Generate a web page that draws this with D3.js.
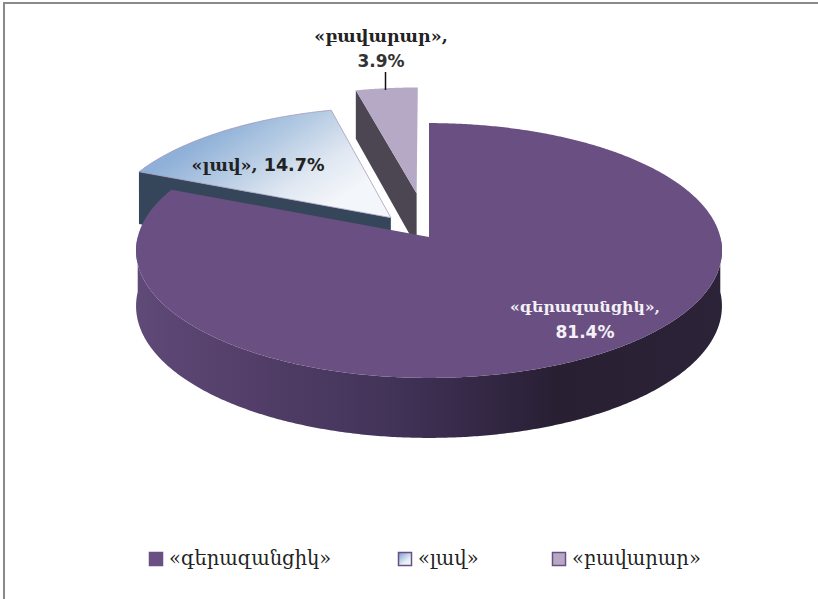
<!DOCTYPE html>
<html><head><meta charset="utf-8">
<script src="https://cdnjs.cloudflare.com/ajax/libs/d3/7.8.5/d3.min.js"></script>
<style>html,body{margin:0;padding:0;background:#fff}svg{display:block}</style></head>
<body><svg id="c" width="818" height="599"></svg>
<script>
const categories = ["«գերազանցիկ»", "«լավ»", "«բավարար»"];
const values = [81.4, 14.7, 3.9];
const valueLabels = ["81.4%", "14.7%", "3.9%"];
const explode = [0, 0.205, 0.36];

const svg = d3.select("#c");
const defs = svg.append("defs");
function lin(id, x1, y1, x2, y2, stops){
  const g = defs.append("linearGradient").attr("id", id).attr("gradientUnits","userSpaceOnUse")
    .attr("x1",x1).attr("y1",y1).attr("x2",x2).attr("y2",y2);
  stops.forEach(s => g.append("stop").attr("offset",s[0]).attr("stop-color",s[1]));
}
lin("wall",136,0,722,0,[[0,"#5f4a78"],[0.2,"#523e68"],[0.42,"#43345a"],[0.6,"#332744"],[0.72,"#281f33"],[1,"#2c2338"]]);
lin("blue",230,120,300,225,[[0,"#8fb0d8"],[0.35,"#b5cbe3"],[0.7,"#dfe7f1"],[1,"#f3f6fa"]]);
lin("swatch",400,552,410,564,[[0,"#7aa2d2"],[0.7,"#e6edf5"],[1,"#f4f6fa"]]);

// perspective projection of the unit disk to the page
const px = d3.scaleLinear().domain([0,1]).range([429,720.3]);
const py = d3.scaleLinear().domain([0,1]).range([237,111]);
const persp = 0.1059;
function project(X,Y,z){
  const w = 1 + persp*Y;
  const d = z ? 55 - 5*Y : 0;
  return [px(X/w), py(Y/w) + d];
}
const pie = d3.pie().sort(null).value(d=>d)(values);
const line = d3.line();
const DEG = Math.PI/180;
const slices = pie.map((p,i)=>{
  const mid = (p.startAngle+p.endAngle)/2;
  const ox = Math.sin(mid)*explode[i], oy = Math.cos(mid)*explode[i];
  return {a0:p.startAngle,a1:p.endAngle,ox,oy,
    rim:(a,z)=>project(Math.sin(a)+ox,Math.cos(a)+oy,z),
    apex:(z)=>project(ox,oy,z)};
});
function topPath(s){
  const pts=[s.apex(false)];
  for(const a of d3.range(s.a0,s.a1,DEG/2)) pts.push(s.rim(a,false));
  pts.push(s.rim(s.a1,false));
  return line(pts)+"Z";
}
function wallPath(s,a){
  return line([s.rim(a,false),s.apex(false),s.apex(true),s.rim(a,true)])+"Z";
}
function outerPath(s,a0,a1){
  const as=d3.range(a0,a1,DEG/2).concat([a1]);
  return line(as.map(a=>s.rim(a,false)).concat(as.slice().reverse().map(a=>s.rim(a,true))))+"Z";
}
const [main,good,ok] = slices;

// page border
svg.append("path").attr("d","M4,599V3H818").attr("fill","none").attr("stroke","#8a8a8a").attr("stroke-width",2);

// back slices
svg.append("path").attr("d",wallPath(ok,ok.a0)).attr("fill","#4b4652");
svg.append("path").attr("d",topPath(ok)).attr("fill","#b6a9c6");
svg.append("path").attr("d",wallPath(good,good.a0)).attr("fill","#36465a");
svg.append("path").attr("d",topPath(good)).attr("fill","url(#blue)").attr("stroke","#9c8fb5").attr("stroke-width",0.7);

// main slice
svg.append("path").attr("d",outerPath(main,90*DEG,270*DEG)).attr("fill","url(#wall)");
svg.append("path").attr("d",topPath(main)).attr("fill","#6a5082");

// data labels: Armenian in a serif face, digits in a sans face
function label(parts,x,y,fill,size){
  const t = svg.append("text").attr("x",x).attr("y",y).attr("text-anchor","middle")
    .attr("font-weight","bold").attr("font-size",size).attr("fill",fill);
  parts.forEach(p => t.append("tspan").attr("font-family",p[1]).text(p[0]));
}
const serif="DejaVu Serif", sans="DejaVu Sans";
label([[categories[2]+",",serif]],381,42,"#222",17.5);
label([[valueLabels[2],sans]],381,67,"#333",17);
svg.append("path").attr("d","M385.5,72V90").attr("stroke","#111").attr("stroke-width",1.5);
label([[categories[1]+", ",serif],[valueLabels[1],sans]],258,171,"#222",17.5);
label([[categories[0]+",",serif]],585,312,"#f4f1f6",15.7);
label([[valueLabels[0],sans]],585,338,"#f4f1f6",17);

// legend
const legendX = d3.scaleOrdinal().domain(categories).range([149,398,552]);
const fills = ["#6a5082","url(#swatch)","#b6a9c6"];
categories.forEach((c,i)=>{
  const x = legendX(c);
  svg.append("rect").attr("x",x+0.5).attr("y",552.5).attr("width",13).attr("height",13)
    .attr("fill",fills[i]).attr("stroke","#6a5082").attr("stroke-width",1.5);
  svg.append("text").attr("x",x+20).attr("y",565).attr("font-family",serif)
    .attr("font-size",19.5).attr("fill","#222").text(c);
});
</script></body></html>
